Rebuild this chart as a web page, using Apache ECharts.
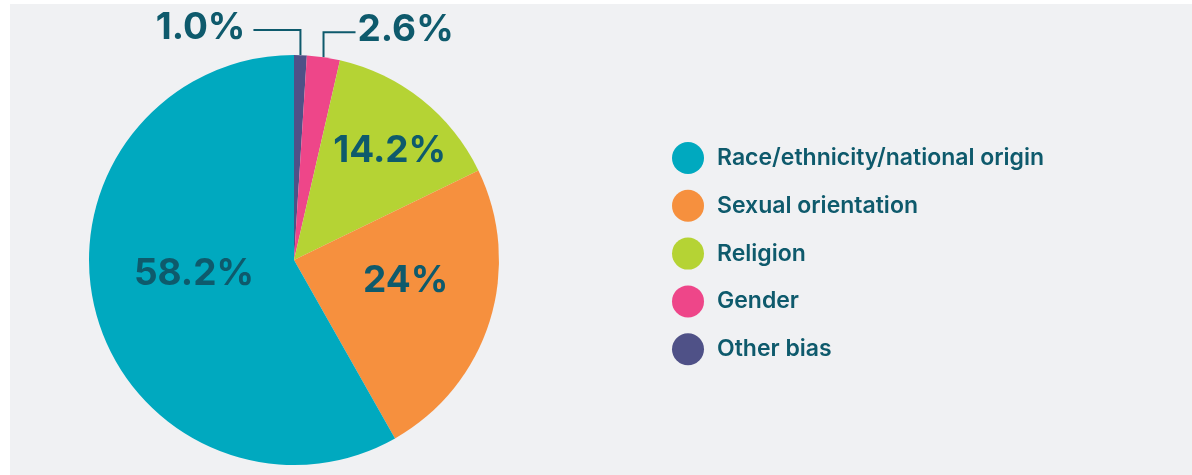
<!DOCTYPE html>
<html>
<head>
<meta charset="utf-8">
<script src="https://cdn.jsdelivr.net/npm/echarts@6/dist/echarts.min.js"></script>
<style>
  html, body { margin: 0; padding: 0; background: #ffffff; }
  #chart { width: 1192px; height: 475px; }
</style>
</head>
<body>
<div id="chart"></div>
<script>
// Data, in clockwise order from 12 o'clock
const categories = ["Other bias", "Gender", "Religion", "Sexual orientation", "Race/ethnicity/national origin"];
const values = [1.0, 2.6, 14.2, 24, 58.2];
const valueLabels = ["1.0%", "2.6%", "14.2%", "24%", "58.2%"];
const legendOrder = ["Race/ethnicity/national origin", "Sexual orientation", "Religion", "Gender", "Other bias"];

const colors = ["#4f5187", "#ee4689", "#b5d334", "#f6903e", "#00a9bf"];
const textColor = "#0e5a6c";
const fontFamily = "Inter, 'Open Sans', sans-serif";

// nudges for the in-slice labels (dx, dy)
const insideNudge = { 2: [30, -27], 3: [11, -10], 4: [2, -13] };

const chart = echarts.init(document.getElementById("chart"));

const option = {
  animation: false,
  graphic: [
    {
      type: "rect",
      left: 10,
      top: 4,
      shape: { width: 1182, height: 471 },
      style: { fill: "#f0f1f3" },
      z: -10,
    },
  ],
  legend: {
    data: legendOrder,
    orient: "vertical",
    left: 667,
    top: 137,
    icon: "circle",
    itemWidth: 32,
    itemHeight: 32,
    itemGap: 15.8,
    textStyle: {
      color: textColor,
      fontFamily: fontFamily,
      fontWeight: 600,
      fontSize: 23,
      padding: [0, 0, 0, 8],
    },
  },
  series: [
    {
      type: "pie",
      center: [294, 260],
      radius: 205,
      startAngle: 90,
      clockwise: true,
      avoidLabelOverlap: false,
      itemStyle: { borderWidth: 0 },
      emphasis: { disabled: true },
      label: {
        show: true,
        position: "outside",
        color: textColor,
        fontFamily: fontFamily,
        fontWeight: 700,
        fontSize: 37,
        formatter: (p) => valueLabels[p.dataIndex],
      },
      labelLine: {
        show: true,
        lineStyle: { color: textColor, width: 2 },
      },
      labelLayout: (params) => {
        const i = params.dataIndex;
        if (i <= 1) {
          const p0 = params.labelLinePoints[0];
          const yLine = p0[1] - 25;
          const len = i === 0 ? 47 : 32;
          const gap = i === 0 ? 8 : 2;
          const dir = i === 0 ? -1 : 1;
          const xEnd = p0[0] + dir * len;
          return {
            x: xEnd + dir * gap,
            y: yLine - 2,
            align: i === 0 ? "right" : "left",
            verticalAlign: "middle",
            labelLinePoints: [p0, [p0[0], yLine], [xEnd, yLine]],
          };
        }
        const n = insideNudge[i] || [0, 0];
        return { dx: n[0], dy: n[1] };
      },
      data: categories.map((name, i) => {
        const item = { name: name, value: values[i], itemStyle: { color: colors[i] } };
        if (i >= 2) {
          item.label = { position: "inside" };
          item.labelLine = { show: false };
        }
        return item;
      }),
    },
  ],
};

chart.setOption(option);
</script>
</body>
</html>
